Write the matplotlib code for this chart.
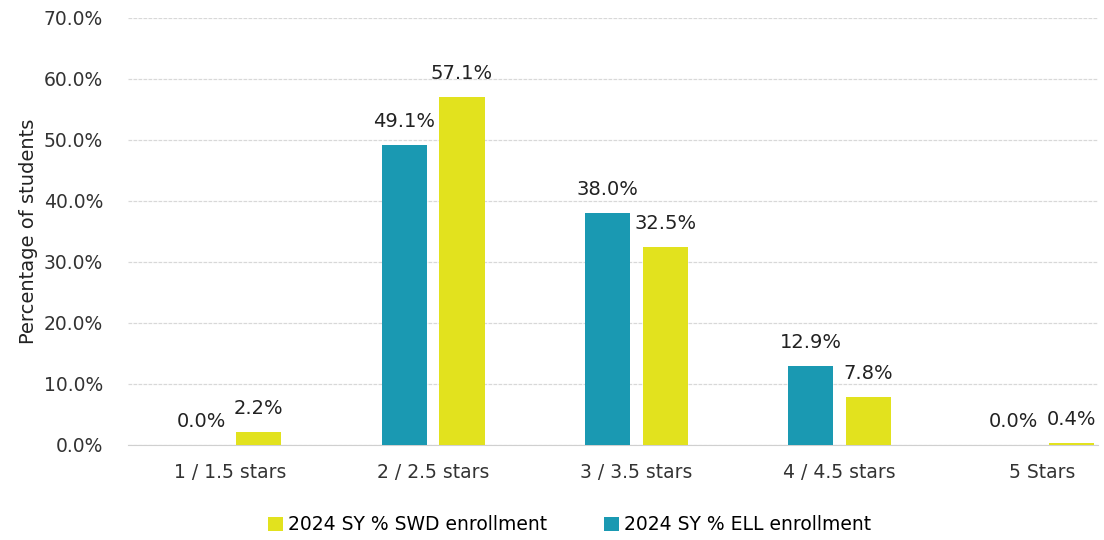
import numpy as np
import matplotlib.pyplot as plt

# Data
categories = ['1 / 1.5 stars', '2 / 2.5 stars', '3 / 3.5 stars', '4 / 4.5 stars', '5 Stars']
ell = [0.0, 49.1, 38.0, 12.9, 0.0]
swd = [2.2, 57.1, 32.5, 7.8, 0.4]
yticks = [0, 10, 20, 30, 40, 50, 60, 70]

teal = '#1a99b2'
yellow = '#e2e21e'

fig = plt.figure(figsize=(11.04, 5.4), dpi=100)
ax = fig.add_axes([0.116, 0.176, 0.879, 0.791])

x = np.arange(len(categories))
w = 0.222
off = 0.142

b_swd = ax.bar(x + off, swd, w, color=yellow, label='2024 SY % SWD enrollment', zorder=3)
b_ell = ax.bar(x - off, ell, w, color=teal, label='2024 SY % ELL enrollment', zorder=3)

for bars, vals in ((b_ell, ell), (b_swd, swd)):
    for b, v in zip(bars, vals):
        ax.annotate(f'{v:.1f}%', (b.get_x() + b.get_width() / 2, v),
                    xytext=(0, 10), textcoords='offset points',
                    ha='center', va='bottom', fontsize=14, color='#222222')

ax.set_xlim(-0.502, 4.276)
ax.set_ylim(0, 70)
ax.set_yticks(yticks)
ax.set_yticklabels([f'{t:.1f}%' for t in yticks])
ax.set_xticks(x)
ax.set_xticklabels(categories)
ax.tick_params(axis='both', length=0, labelsize=13.5, colors='#333333')
ax.tick_params(axis='x', pad=13)
ax.tick_params(axis='y', pad=18)
ax.set_ylabel('Percentage of students', fontsize=14, color='#222222', labelpad=4)

ax.yaxis.grid(True, color='#d8d8d8', linewidth=0.9, linestyle=(0, (3, 1)), zorder=0)
for s in ['top', 'right', 'left']:
    ax.spines[s].set_visible(False)
ax.spines['bottom'].set_color('#d0d0d0')

ax.legend(loc='upper center', bbox_to_anchor=(0.455, -0.125), ncol=2, frameon=False,
          fontsize=13.5, handlelength=0.8, handleheight=0.8, handletextpad=0.3,
          columnspacing=3.0)

fig.savefig('out.png', dpi=100, facecolor='white')
